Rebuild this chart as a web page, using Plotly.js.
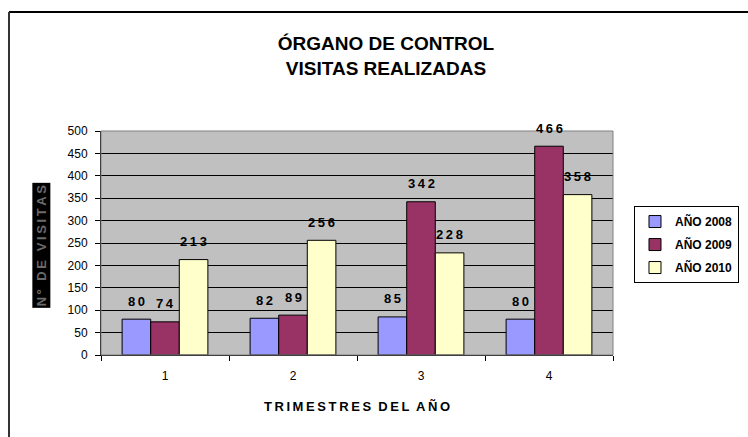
<!DOCTYPE html>
<html>
<head>
<meta charset="utf-8">
<script src="https://cdn.plot.ly/plotly-3.0.1.min.js"></script>
<style>body{margin:0;background:#fff}#plot{width:748px;height:437px}</style>
</head>
<body>
<div id="plot"></div>
<script>
// data
let trimestres = ['1', '2', '3', '4'];
let series = ['AÑO 2008', 'AÑO 2009', 'AÑO 2010'];
let v2008 = [80, 82, 85, 80];
let v2009 = [74, 89, 342, 466];
let v2010 = [213, 256, 228, 358];
let colors = ['#9999FF', '#993366', '#FFFFCC'];

// Excel-style spaced letters
let spaced = s => String(s).split('').join('\u2009');

let allVals = [v2008, v2009, v2010];

let traces = allVals.map((vals, i) => ({
  x: trimestres,
  y: vals,
  name: series[i],
  legendgroup: 'g' + i,
  type: 'bar',
  marker: {color: colors[i], line: {color: '#000', width: 1}}
}));

// value labels floating above each bar (bar width = (1 - bargap) / 3 of a category)
let plotW = 512;
let bargap = 0.33;
let catPx = plotW / trimestres.length;
let barPx = catPx * (1 - bargap) / 3;
let labels = [];
allVals.forEach((vals, i) => {
  vals.forEach((v, j) => {
    labels.push({
      x: j, y: v,          // category index on the category axis
      xref: 'x', yref: 'y',
      text: spaced(v),
      showarrow: false,
      xshift: (i - 1) * barPx,
      yshift: 18,
      font: {size: 13, weight: 'bold', color: '#000'}
    });
  });
});

let layout = {
  width: 748,
  height: 437,
  margin: {l: 101, r: 135, t: 131, b: 82, autoexpand: false},
  paper_bgcolor: '#fff',
  plot_bgcolor: '#C0C0C0',
  font: {family: 'Arial, Liberation Sans', color: '#000'},
  bargap: bargap,
  bargroupgap: 0,
  showlegend: true,
  title: {
    text: 'ÓRGANO DE CONTROL<br>VISITAS REALIZADAS',
    font: {size: 19, weight: 'bold'},
    x: 0.516, xanchor: 'center',
    y: 0.886, yanchor: 'bottom'
  },
  xaxis: {
    type: 'category',
    range: [-0.5, trimestres.length - 0.5],
    tickson: 'boundaries',
    ticks: 'outside', ticklen: 5, tickcolor: '#000',
    ticklabelstandoff: 10,
    showgrid: false,
    showline: true, linecolor: '#000',
    tickfont: {size: 12},
    title: {text: 'T\u2009R\u2009I\u2009M\u2009E\u2009S\u2009T\u2009R\u2009E\u2009S  D\u2009E\u2009L  A\u2009Ñ\u2009O',
            font: {size: 13, weight: 'bold'}, standoff: 19}
  },
  yaxis: {
    range: [0, 500],
    dtick: 50,
    ticks: 'outside', ticklen: 5, tickcolor: '#000',
    ticklabelstandoff: 5,
    showgrid: true, gridcolor: '#000', gridwidth: 1,
    showline: true, linecolor: '#000',
    zeroline: false,
    tickfont: {size: 12}
  },
  legend: {
    x: 1.041, xanchor: 'left',
    y: 0.665, yanchor: 'top',
    bordercolor: '#000', borderwidth: 1,
    bgcolor: '#fff',
    font: {size: 12, weight: 'bold'},
    itemwidth: 30,
    tracegroupgap: 4
  },
  annotations: labels.concat([{
    text: spaced('Nº DE VISITAS'),
    xref: 'paper', yref: 'paper',
    x: -0.117, y: 0.49,
    xanchor: 'center', yanchor: 'middle',
    textangle: -90,
    showarrow: false,
    bgcolor: '#000',
    font: {size: 13, color: '#6a6a6a', weight: 'bold'}
  }]),
  shapes: [
    // outer chart frame
    {type: 'line', xref: 'paper', yref: 'paper', x0: -0.1797, x1: 1.6, y0: 1.531, y1: 1.531, line: {color: '#000', width: 2}},
    {type: 'line', xref: 'paper', yref: 'paper', x0: -0.1797, x1: -0.1797, y0: 1.531, y1: -0.5, line: {color: '#333', width: 2}},
    // plot area border
    {type: 'rect', xref: 'paper', yref: 'paper', x0: 0, x1: 1, y0: 0, y1: 1, line: {color: '#808080', width: 1}}
  ]
};

Plotly.newPlot('plot', traces, layout, {displayModeBar: false});
</script>
</body>
</html>
